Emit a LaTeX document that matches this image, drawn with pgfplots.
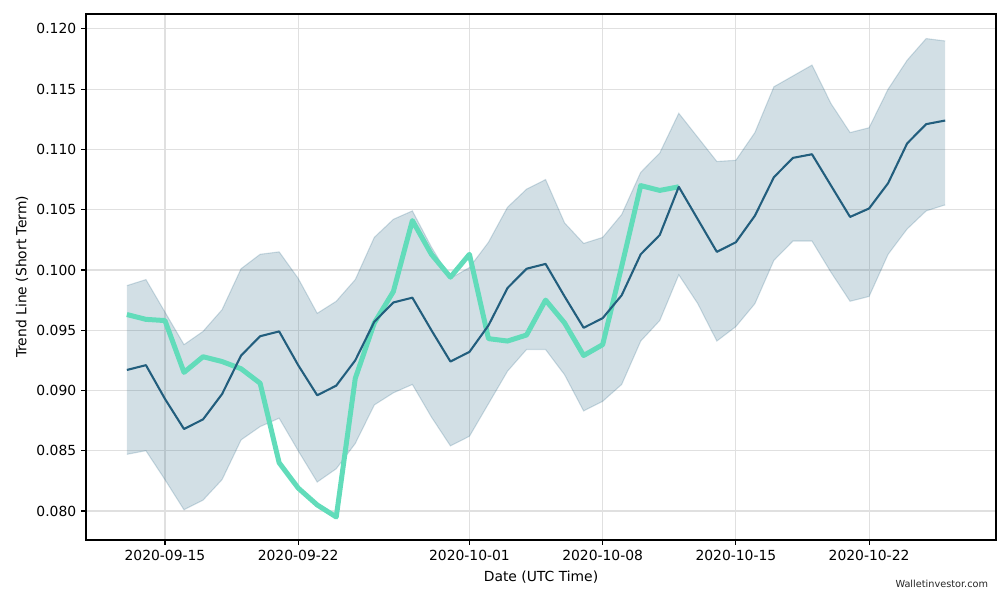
\documentclass[border=0pt]{standalone}
\usepackage{fontspec}
\setmainfont{DejaVu Sans}
\usepackage{pgfplots}
\usepackage{pgfplotstable}
\pgfplotsset{compat=1.18}
\usepgfplotslibrary{fillbetween}
\definecolor{darkline}{RGB}{34,94,125}
\definecolor{bandfill}{RGB}{31,95,127}
\definecolor{greenline}{RGB}{98,220,186}
\definecolor{gridc}{RGB}{224,224,224}

\pgfplotstableread{
d mid up lo
0 0.0917 0.0987 0.0847
1 0.0921 0.0992 0.0850
2 0.0893 0.0965 0.0826
3 0.0868 0.0938 0.0801
4 0.0876 0.0949 0.0809
5 0.0897 0.0967 0.0826
6 0.0929 0.1001 0.0859
7 0.0945 0.1013 0.0870
8 0.0949 0.1015 0.0877
9 0.0921 0.0993 0.0850
10 0.0896 0.0964 0.0824
11 0.0904 0.0974 0.0835
12 0.0925 0.0992 0.0856
13 0.0957 0.1027 0.0888
14 0.0973 0.1042 0.0898
15 0.0977 0.1049 0.0905
16 0.0950 0.1019 0.0878
17 0.0924 0.0993 0.0854
18 0.0932 0.1002 0.0862
19 0.0954 0.1023 0.0889
20 0.0985 0.1052 0.0916
21 0.1001 0.1067 0.0934
22 0.1005 0.1075 0.0934
23 0.0978 0.1039 0.0913
24 0.0952 0.1022 0.0883
25 0.0960 0.1027 0.0891
26 0.0979 0.1046 0.0905
27 0.1013 0.1081 0.0941
28 0.1029 0.1097 0.0958
29 0.1069 0.1130 0.0996
30 0.1042 0.1110 0.0972
31 0.1015 0.1090 0.0941
32 0.1023 0.1091 0.0953
33 0.1045 0.1114 0.0972
34 0.1077 0.1152 0.1008
35 0.1093 0.1161 0.1024
36 0.1096 0.1170 0.1024
37 0.1070 0.1138 0.0998
38 0.1044 0.1114 0.0974
39 0.1051 0.1118 0.0978
40 0.1072 0.1150 0.1013
41 0.1105 0.1174 0.1034
42 0.1121 0.1192 0.1049
43 0.1124 0.1190 0.1054
}\bandtable

\pgfplotstableread{
d v
0 0.0963
1 0.0959
2 0.0958
3 0.0915
4 0.0928
5 0.0924
6 0.0918
7 0.0906
8 0.0840
9 0.0819
10 0.0805
11 0.0795
12 0.0910
13 0.0956
14 0.0982
15 0.1041
16 0.1013
17 0.0994
18 0.1013
19 0.0943
20 0.0941
21 0.0946
22 0.0975
23 0.0956
24 0.0929
25 0.0938
26 0.1003
27 0.1070
28 0.1066
29 0.1069
}\greentable

\begin{document}
\begin{tikzpicture}
\begin{axis}[
  at={(0,0)}, anchor=south west,
  scale only axis,
  width=655.2pt, height=378.72pt,
  xmin=-2.15, xmax=45.67,
  ymin=0.07759, ymax=0.12124,
  xtick={2,9,18,25,32,39},
  xticklabels={2020-09-15,2020-09-22,2020-10-01,2020-10-08,2020-10-15,2020-10-22},
  ytick={0.080,0.085,0.090,0.095,0.100,0.105,0.110,0.115,0.120},
  yticklabel style={/pgf/number format/.cd,fixed,fixed zerofill,precision=3,assume math mode=true},
  xticklabel style={font=\fontsize{10}{12}\selectfont},
  scaled y ticks=false,
  tick label style={font=\fontsize{10}{12}\selectfont},
  tick align=outside,
  tick pos=left,
  major tick length=3.5pt,
  tick style={black, line width=0.8pt},
  axis line style={line width=0.8pt},
  grid=major,
  grid style={gridc, line width=0.8pt},
  xlabel={Date (UTC Time)},
  ylabel={Trend Line (Short Term)},
  label style={font=\fontsize{10}{12}\selectfont},
  xlabel style={yshift=-1pt},
  ylabel style={yshift=-1pt},
]
\addplot[name path=up, draw=bandfill, draw opacity=0.2, line width=0.8pt, forget plot] table[x=d, y=up] {\bandtable};
\addplot[name path=lo, draw=bandfill, draw opacity=0.2, line width=0.8pt, forget plot] table[x=d, y=lo] {\bandtable};
\addplot[fill=bandfill, fill opacity=0.2, draw=none, forget plot] fill between[of=up and lo];
\addplot[greenline, line width=3.6pt, line join=round] table[x=d, y=v] {\greentable};
\addplot[darkline, line width=1.5pt, line join=round] table[x=d, y=mid] {\bandtable};
\end{axis}
\node[anchor=base east, font=\fontsize{7}{8}\selectfont, text=black!85] at (653pt,-34pt) {Walletinvestor.com};
\path[use as bounding box] (-61.92pt,-45.36pt) rectangle (657.36pt,388.8pt);
\end{tikzpicture}
\end{document}
